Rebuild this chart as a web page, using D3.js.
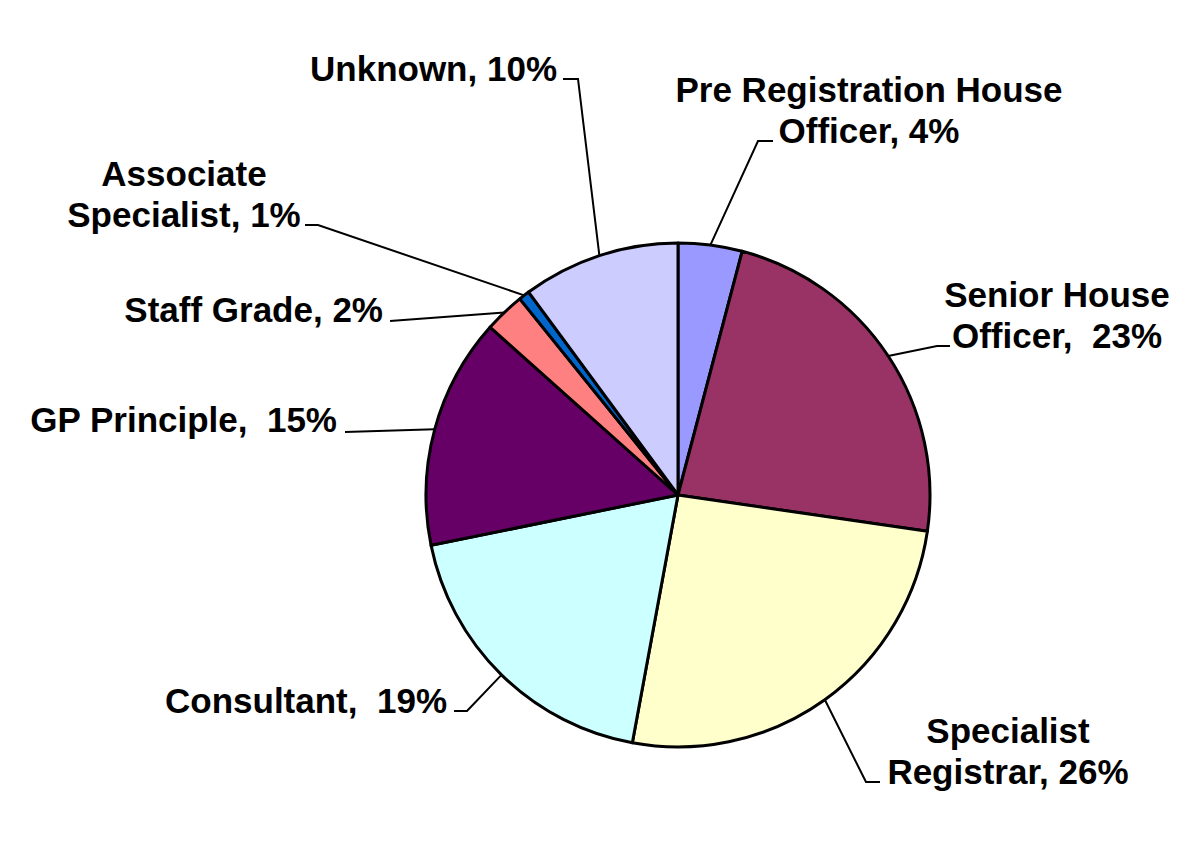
<!DOCTYPE html>
<html>
<head>
<meta charset="utf-8">
<script src="https://cdn.jsdelivr.net/npm/d3@7"></script>
<style>
  body { margin: 0; background: #fff; }
  text { font-family: "Liberation Sans", Arial, sans-serif; font-weight: bold; white-space: pre; }
</style>
</head>
<body>
<div id="chart"></div>
<script>
// slices, clockwise from 12 o'clock
const categories = [
  "Pre Registration House Officer",
  "Senior House Officer",
  "Specialist Registrar",
  "Consultant",
  "GP Principle",
  "Staff Grade",
  "Associate Specialist",
  "Unknown"
];
const shares = [4.1, 23.2, 25.6, 18.9, 14.8, 2.6, 0.7, 10.1];
const labelLines = [
  ["Pre Registration House", "Officer, 4%"],
  ["Senior House", "Officer,  23%"],
  ["Specialist", "Registrar, 26%"],
  ["Consultant,  19%"],
  ["GP Principle,  15%"],
  ["Staff Grade, 2%"],
  ["Associate", "Specialist, 1%"],
  ["Unknown, 10%"]
];
const colors = ["#9999ff", "#993366", "#ffffcc", "#ccffff", "#660066", "#ff8080", "#0066cc", "#ccccff"];

// label placement: text anchor point, alignment, leader elbow and end
const labelLayout = [
  { x: 869, y: 102, anchor: "middle", elbow: [758, 141], end: [773, 141] },
  { x: 1057, y: 307, anchor: "middle", elbow: [937, 346], end: [950, 346] },
  { x: 1008, y: 743, anchor: "middle", elbow: [866, 782], end: [880, 782] },
  { x: 447, y: 713, anchor: "end", elbow: [467, 711], end: [454, 711] },
  { x: 337, y: 432, anchor: "end", elbow: [345, 432], end: [345, 432] },
  { x: 383, y: 322, anchor: "end", elbow: [390, 321], end: [390, 321] },
  { x: 184, y: 186, anchor: "middle", elbow: [318, 225], end: [305, 225] },
  { x: 557, y: 81, anchor: "end", elbow: [578, 79], end: [563, 79] }
];

const width = 1200, height = 844;
const cx = 678, cy = 495, radius = 252;

const svg = d3.select("#chart").append("svg")
  .attr("width", width)
  .attr("height", height);

const g = svg.append("g").attr("transform", `translate(${cx},${cy})`);

const pie = d3.pie().sort(null).value((d) => d.value);
const arc = d3.arc().innerRadius(0).outerRadius(radius);

const data = categories.map((c, i) => ({ name: c, value: shares[i], i }));
const arcs = pie(data);

g.selectAll("path.slice")
  .data(arcs)
  .enter()
  .append("path")
  .attr("class", "slice")
  .attr("d", arc)
  .attr("fill", (d) => colors[d.data.i])
  .attr("stroke", "#000")
  .attr("stroke-width", 3)
  .attr("stroke-linejoin", "round");

// leader lines from slice edge
const line = d3.line();
svg.selectAll("path.leader")
  .data(arcs)
  .enter()
  .append("path")
  .attr("class", "leader")
  .attr("d", (d) => {
    const a = (d.startAngle + d.endAngle) / 2;
    const p = [cx + radius * Math.sin(a), cy - radius * Math.cos(a)];
    const L = labelLayout[d.data.i];
    return line([p, L.elbow, L.end]);
  })
  .attr("fill", "none")
  .attr("stroke", "#000")
  .attr("stroke-width", 2);

// labels
const labels = svg.selectAll("text.label")
  .data(arcs)
  .enter()
  .append("text")
  .attr("class", "label")
  .attr("x", (d) => labelLayout[d.data.i].x)
  .attr("y", (d) => labelLayout[d.data.i].y)
  .attr("text-anchor", (d) => labelLayout[d.data.i].anchor)
  .attr("font-size", "35px")
  .attr("fill", "#000");

labels.selectAll("tspan")
  .data((d) => labelLines[d.data.i].map((t, k) => ({ t, k, L: labelLayout[d.data.i] })))
  .enter()
  .append("tspan")
  .attr("x", (d) => d.L.x)
  .attr("dy", (d) => (d.k === 0 ? 0 : 41))
  .text((d) => d.t);
</script>
</body>
</html>
